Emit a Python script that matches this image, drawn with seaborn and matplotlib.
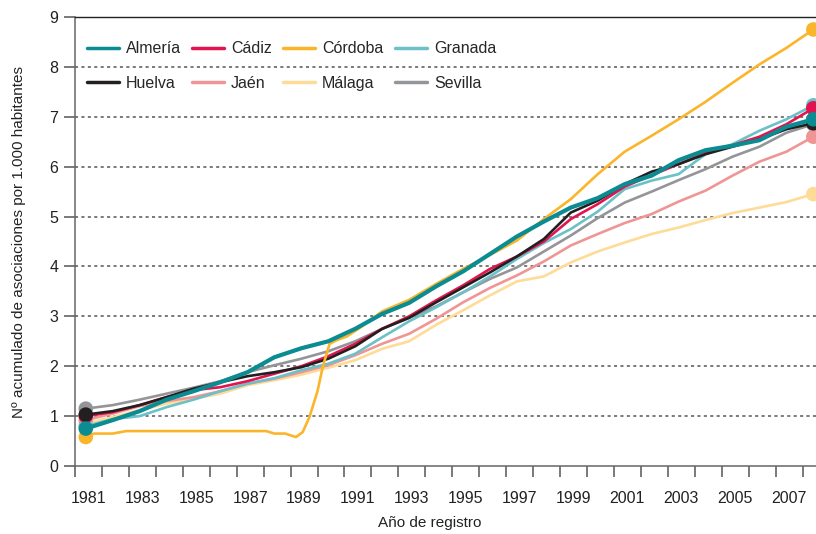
import numpy as np
import pandas as pd
import seaborn as sns
import matplotlib.pyplot as plt
from matplotlib.lines import Line2D

# data (cumulative associations per 1,000 inhabitants), one value per year
years = list(range(1981, 2009))

almeria = [0.75, 0.92, 1.10, 1.33, 1.50, 1.68, 1.88, 2.18, 2.36, 2.50, 2.75, 3.05, 3.27, 3.60,
           3.90, 4.25, 4.60, 4.90, 5.18, 5.37, 5.65, 5.82, 6.13, 6.33, 6.42, 6.53, 6.80, 6.95]
cadiz = [1.00, 1.08, 1.22, 1.38, 1.52, 1.58, 1.70, 1.85, 2.00, 2.20, 2.45, 2.75, 3.00, 3.32,
         3.62, 3.95, 4.20, 4.50, 4.95, 5.25, 5.60, 5.83, 6.05, 6.28, 6.43, 6.60, 6.85, 7.17]
granada = [0.80, 0.94, 1.00, 1.18, 1.33, 1.50, 1.65, 1.76, 1.92, 2.05, 2.25, 2.58, 2.90, 3.18,
           3.48, 3.80, 4.15, 4.47, 4.75, 5.10, 5.55, 5.72, 5.85, 6.25, 6.45, 6.72, 6.95, 7.23]
huelva = [1.03, 1.10, 1.22, 1.38, 1.55, 1.68, 1.80, 1.88, 1.98, 2.15, 2.40, 2.75, 2.97, 3.28,
          3.58, 3.88, 4.20, 4.55, 5.08, 5.32, 5.65, 5.90, 6.05, 6.25, 6.40, 6.55, 6.75, 6.87]
jaen = [0.92, 1.05, 1.20, 1.30, 1.38, 1.50, 1.65, 1.75, 1.88, 2.02, 2.22, 2.45, 2.65, 2.95,
        3.28, 3.57, 3.82, 4.10, 4.42, 4.65, 4.87, 5.05, 5.30, 5.52, 5.82, 6.10, 6.30, 6.60]
malaga = [0.85, 0.98, 1.12, 1.25, 1.35, 1.45, 1.62, 1.72, 1.83, 1.97, 2.12, 2.35, 2.50, 2.83,
          3.12, 3.42, 3.70, 3.80, 4.08, 4.30, 4.48, 4.65, 4.78, 4.93, 5.07, 5.18, 5.29, 5.45]
sevilla = [1.15, 1.22, 1.33, 1.45, 1.57, 1.70, 1.88, 2.02, 2.15, 2.30, 2.50, 2.75, 2.97, 3.20,
           3.48, 3.75, 3.98, 4.30, 4.62, 4.97, 5.28, 5.50, 5.73, 5.95, 6.20, 6.40, 6.68, 6.85]

# Córdoba has a dip and jump around 1989, so it is read at finer steps
cordoba_x = [1981, 1981.3, 1982, 1982.5, 1987.7, 1988.0, 1988.4, 1988.8, 1989.05, 1989.3,
             1989.6, 1989.8, 1990.05, 1990.3, 1990.7, 1991.2, 1992, 1993, 1994, 1995, 1996,
             1997, 1998, 1999, 2000, 2001, 2002, 2003, 2004, 2005, 2006, 2007, 2008]
cordoba = [0.58, 0.65, 0.65, 0.70, 0.70, 0.65, 0.65, 0.58, 0.68, 0.98,
           1.50, 2.00, 2.45, 2.52, 2.60, 2.78, 3.10, 3.33, 3.65, 3.95, 4.23,
           4.52, 4.95, 5.35, 5.85, 6.30, 6.62, 6.95, 7.30, 7.68, 8.05, 8.38, 8.75]

colors = {
    "Almería": "#0b8b92",
    "Cádiz": "#e2144f",
    "Córdoba": "#fbb52b",
    "Granada": "#6cc1c9",
    "Huelva": "#231f20",
    "Jaén": "#ef9595",
    "Málaga": "#fedb97",
    "Sevilla": "#949598",
}

series = {
    "Sevilla": (years, sevilla),
    "Málaga": (years, malaga),
    "Jaén": (years, jaen),
    "Granada": (years, granada),
    "Cádiz": (years, cadiz),
    "Huelva": (years, huelva),
    "Córdoba": (cordoba_x, cordoba),
    "Almería": (years, almeria),
}

frames = []
for name, (xs, ys) in series.items():
    frames.append(pd.DataFrame({"year": xs, "value": ys, "provincia": name}))
df = pd.concat(frames, ignore_index=True)

sns.set_theme(style="white")
plt.rcParams["font.family"] = ["Liberation Sans", "DejaVu Sans"]

fig = plt.figure(figsize=(8.16, 5.34), dpi=100)
ax = fig.add_axes([75 / 816, 68 / 534, 741 / 816, 449 / 534])

for y in range(1, 9):
    ax.axhline(y, color="#555555", lw=1.1, ls=(0, (2, 2.2)), zorder=0)

for i, name in enumerate(series):
    sub = df[df.provincia == name]
    lw = 3.0 if name == "Almería" else 1.9
    sns.lineplot(data=sub, x="year", y="value", ax=ax, color=colors[name], lw=lw,
                 legend=False, zorder=2 + i)
    ends = sub.iloc[[0, -1]]
    sns.scatterplot(data=ends, x="year", y="value", ax=ax, color=colors[name], s=110,
                    edgecolor="none", legend=False, zorder=2 + i, clip_on=False)

ax.set_xlim(1980.6, 2008.1)
ax.set_ylim(0, 9)

# year boundaries as tick marks, odd years as labels in between
ax.set_xticks([y - 0.4 for y in range(1981, 2009)])
ax.set_xticklabels([])
odd = list(range(1981, 2008, 2))
ax.set_xticks([y + 0.1 for y in odd], [str(y) for y in odd], minor=True)
ax.tick_params(axis="x", which="major", direction="out", length=8, width=1.1,
               color="#555555", bottom=True)
ax.tick_params(axis="x", which="minor", length=0, labelsize=11.5, pad=18, colors="#222222")
ax.set_yticks(range(0, 10))
ax.tick_params(axis="y", direction="out", length=8, width=1.1, color="#555555",
               left=True, labelsize=11.5, labelcolor="#222222", pad=4)

for side in ["left", "bottom"]:
    ax.spines[side].set_color("#666666")
    ax.spines[side].set_linewidth(1.1)
ax.spines["top"].set_color("#222222")
ax.spines["top"].set_linewidth(1.0)
ax.spines["right"].set_visible(False)

ax.set_xlabel("Año de registro", fontsize=11, color="#222222")
ax.xaxis.set_label_coords(0.479, -0.112)
ax.set_ylabel("Nº acumulado de asociaciones por 1.000 habitantes", fontsize=11, color="#222222")
ax.yaxis.set_label_coords(-0.066, 0.5)

order = ["Almería", "Huelva", "Cádiz", "Jaén", "Córdoba", "Málaga", "Granada", "Sevilla"]
handles = [Line2D([0], [0], color=colors[n], lw=2.5) for n in order]
ax.legend(handles, order, ncol=4, loc="upper left", bbox_to_anchor=(0.007, 0.96),
          frameon=False, fontsize=11.5, handlelength=2.0, handletextpad=0.45,
          columnspacing=0.7, labelspacing=1.2, borderaxespad=0)

fig.savefig("out.png", dpi=100)
